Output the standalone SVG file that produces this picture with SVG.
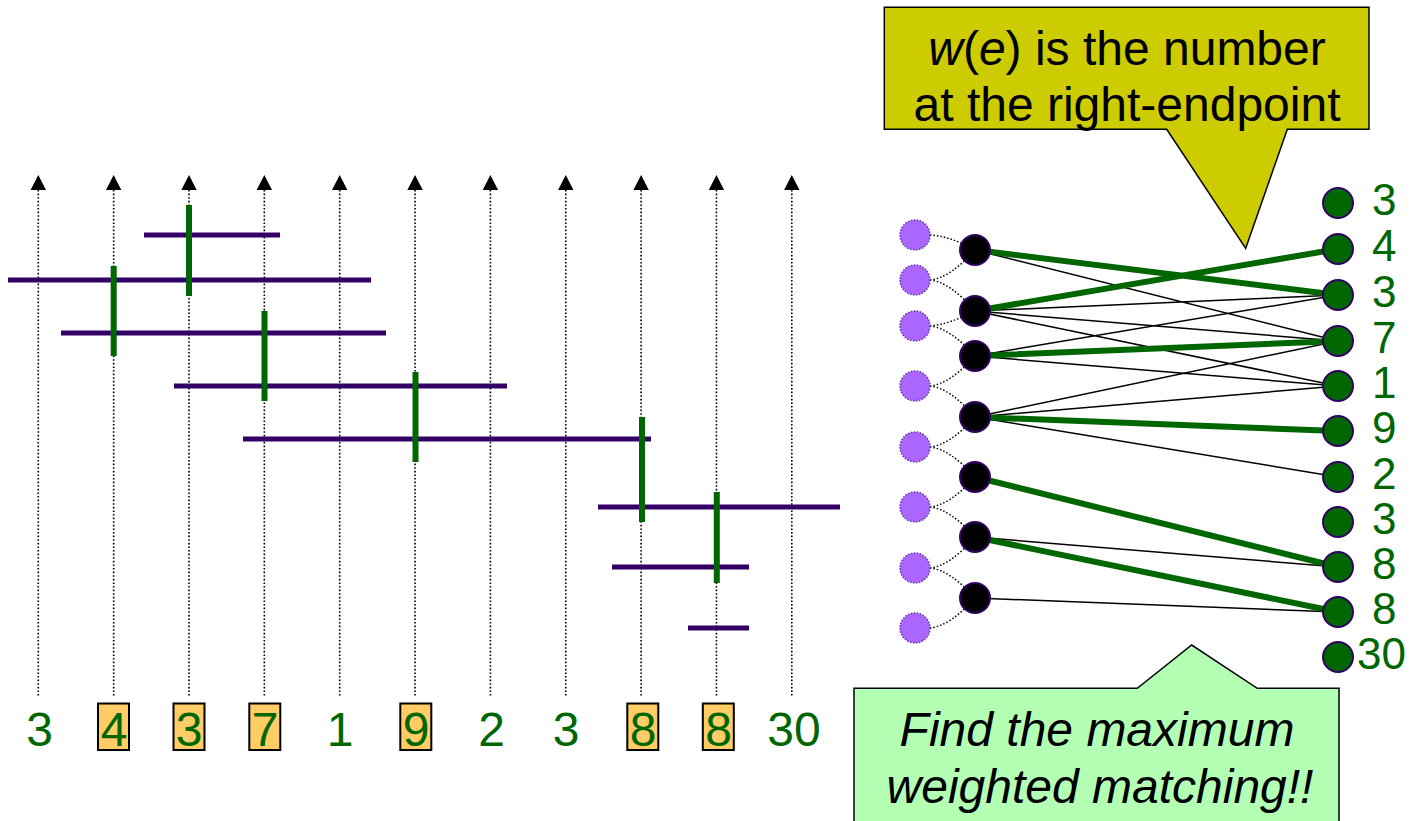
<svg xmlns="http://www.w3.org/2000/svg" width="1412" height="821" viewBox="0 0 1412 821">
<defs>
<style>
.axis{stroke:#000;stroke-width:1.6;stroke-dasharray:1.6,2;fill:none}
.head{fill:#000}
.intv{stroke:#330066;stroke-width:5;fill:none}
.bar{stroke:#006600;stroke-width:6;fill:none}
.num{font-family:"Liberation Sans",Arial,sans-serif;font-size:48px;fill:#006600;text-anchor:middle}
.rnum{font-family:"Liberation Sans",Arial,sans-serif;font-size:44px;fill:#006600}
.hl{fill:#ffcc66;stroke:#000;stroke-width:2}
.pv{fill:#aa66ff;stroke:#6633aa;stroke-width:1.5;stroke-dasharray:1.5,1.5}
.bv{fill:#000;stroke:#330066;stroke-width:2}
.gv{fill:#006600;stroke:#330066;stroke-width:2}
.dot{stroke:#000;stroke-width:1.5;stroke-dasharray:1.5,2;fill:none}
.thin{stroke:#000;stroke-width:1.5;fill:none}
.thick{stroke:#006600;stroke-width:6;fill:none}
.ct{font-family:"Liberation Sans",Arial,sans-serif;font-size:48px;fill:#000;text-anchor:middle}
</style>
</defs>
<rect width="1412" height="821" fill="#fff"/>

<g id="axes">
<path class="axis" d="M38.3,190V697M113.65,190V697M189,190V697M264.35,190V697M339.7,190V697M415.05,190V697M490.4,190V697M565.75,190V697M641.1,190V697M716.45,190V697M791.8,190V697"/>
<path class="head" d="M30.6,190L38.3,175L46,190ZM105.95,190L113.65,175L121.35,190ZM181.3,190L189,175L196.7,190ZM256.65,190L264.35,175L272.05,190ZM332,190L339.7,175L347.4,190ZM407.35,190L415.05,175L422.75,190ZM482.7,190L490.4,175L498.1,190ZM558.05,190L565.75,175L573.45,190ZM633.4,190L641.1,175L648.8,190ZM708.75,190L716.45,175L724.15,190ZM784.1,190L791.8,175L799.5,190Z"/>
</g>

<g id="intervals">
<path class="intv" d="M144,235H280M8,280H371M61,333H386M174,386H507M243,439H651M598,507H840M612,567H749M688,628H749"/>
</g>
<g id="stabs">
<path class="bar" d="M189,205V296M113.7,266V356M264.5,311V401M415.5,372V462M642,417V522M716.8,492V583"/>
</g>

<g id="bottom-labels">
<rect class="hl" x="98" y="703.5" width="31" height="46.5"/>
<rect class="hl" x="173.5" y="703.5" width="31" height="46.5"/>
<rect class="hl" x="249.3" y="703.5" width="31" height="46.5"/>
<rect class="hl" x="400.3" y="703.5" width="31" height="46.5"/>
<rect class="hl" x="627.3" y="703.5" width="31" height="46.5"/>
<rect class="hl" x="702.8" y="703.5" width="31" height="46.5"/>
<text class="num" x="39.5" y="746">3</text>
<text class="num" x="114" y="746">4</text>
<text class="num" x="189" y="746">3</text>
<text class="num" x="265" y="746">7</text>
<text class="num" x="340" y="746">1</text>
<text class="num" x="416" y="746">9</text>
<text class="num" x="491.5" y="746">2</text>
<text class="num" x="566" y="746">3</text>
<text class="num" x="643" y="746">8</text>
<text class="num" x="718.5" y="746">8</text>
<text class="num" x="794" y="746">30</text>
</g>

<g id="connectors">
<path class="dot" d="M930,235Q950,236 975,250M930,280Q950,278 975,250M930,280Q950,282 975,311M930,326Q950,324 975,311M930,326Q950,328 975,356M930,386Q950,384 975,356M930,386Q950,388 975,417M930,447Q950,445 975,417M930,447Q950,449 975,477M930,507Q950,505 975,477M930,507Q950,509 975,537M930,568Q950,566 975,537M930,568Q950,570 975,598M930,628Q950,626 975,598"/>
<path class="thin" d="M975,250L1338,341M975,311L1338,295M975,311L1338,341M975,311L1338,386M975,356L1338,295M975,356L1338,386M975,417L1338,341M975,417L1338,386M975,417L1338,477M975,537L1338,567M975,598L1338,612"/>
<path class="thick" d="M975,250L1338,295M975,311L1338,249M975,356L1338,341M975,417L1338,431M975,477L1338,567M975,537L1338,612"/>
</g>

<g id="left-nodes">
<circle class="pv" cx="915" cy="235" r="15"/>
<circle class="pv" cx="915" cy="280" r="15"/>
<circle class="pv" cx="915" cy="326" r="15"/>
<circle class="pv" cx="915" cy="386" r="15"/>
<circle class="pv" cx="915" cy="447" r="15"/>
<circle class="pv" cx="915" cy="507" r="15"/>
<circle class="pv" cx="915" cy="568" r="15"/>
<circle class="pv" cx="915" cy="628" r="15"/>
</g>
<g id="mid-nodes">
<circle class="bv" cx="975" cy="250" r="15"/>
<circle class="bv" cx="975" cy="311" r="15"/>
<circle class="bv" cx="975" cy="356" r="15"/>
<circle class="bv" cx="975" cy="417" r="15"/>
<circle class="bv" cx="975" cy="477" r="15"/>
<circle class="bv" cx="975" cy="537" r="15"/>
<circle class="bv" cx="975" cy="598" r="15"/>
</g>
<g id="right-nodes">
<circle class="gv" cx="1338" cy="203" r="15"/>
<circle class="gv" cx="1338" cy="249" r="15"/>
<circle class="gv" cx="1338" cy="295" r="15"/>
<circle class="gv" cx="1338" cy="341" r="15"/>
<circle class="gv" cx="1338" cy="386" r="15"/>
<circle class="gv" cx="1338" cy="431" r="15"/>
<circle class="gv" cx="1338" cy="477" r="15"/>
<circle class="gv" cx="1338" cy="522" r="15"/>
<circle class="gv" cx="1338" cy="567" r="15"/>
<circle class="gv" cx="1338" cy="612" r="15"/>
<circle class="gv" cx="1338" cy="657" r="15"/>
<text class="rnum" x="1372" y="215">3</text>
<text class="rnum" x="1372" y="261">4</text>
<text class="rnum" x="1372" y="307">3</text>
<text class="rnum" x="1372" y="353">7</text>
<text class="rnum" x="1372" y="398">1</text>
<text class="rnum" x="1372" y="443">9</text>
<text class="rnum" x="1372" y="489">2</text>
<text class="rnum" x="1372" y="534">3</text>
<text class="rnum" x="1372" y="579">8</text>
<text class="rnum" x="1372" y="624">8</text>
<text class="rnum" x="1357" y="669">30</text>
</g>

<g id="callout-weight">
<path d="M884.3,7.3H1369V129.3H1287.3L1245.7,248.3L1166.7,129.3H884.3Z" fill="#cccc00" stroke="#000" stroke-width="1.5"/>
<text class="ct" x="1127" y="65"><tspan font-style="italic">w</tspan>(<tspan font-style="italic">e</tspan>) is the number</text>
<text class="ct" x="1127" y="120.5">at the right-endpoint</text>
</g>

<g id="callout-find">
<path d="M854,830V688.3H1137.3L1191.7,645L1257.3,688.3H1339V830" fill="#b3ffb3" stroke="#000" stroke-width="1.5"/>
<text class="ct" x="1097" y="746" font-style="italic">Find the maximum</text>
<text class="ct" x="1100" y="803" font-style="italic">weighted matching!!</text>
</g>
</svg>
